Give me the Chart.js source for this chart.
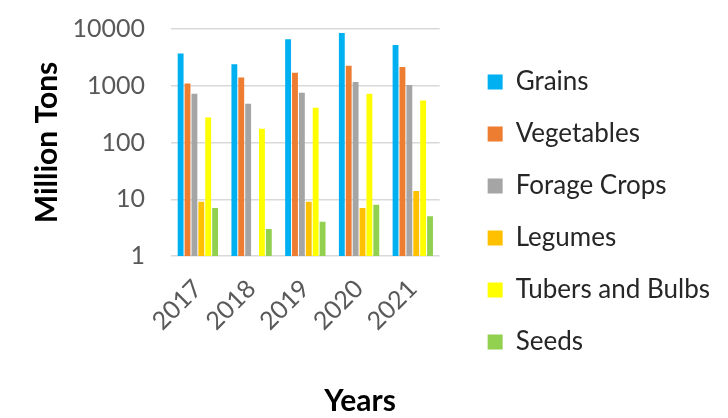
<!DOCTYPE html>
<html><head><meta charset="utf-8">
<script src="https://cdn.jsdelivr.net/npm/chart.js@4.4.1/dist/chart.umd.min.js"></script>
<style>html,body{margin:0;padding:0;background:#fff}#wrap{width:728px;height:418px}</style>
</head><body><div id="wrap"><canvas id="c"></canvas></div>
<script>
const categories = ['2017','2018','2019','2020','2021'];
const grains = [3700, 2400, 6600, 8500, 5200];
const vegetables = [1100, 1400, 1700, 2250, 2150];
const forageCrops = [720, 480, 750, 1170, 1030];
const legumes = [9, null, 9, 7, 14];
const tubersBulbs = [275, 175, 410, 720, 550];
const seeds = [7, 3, 4, 8, 5];
const yTicks = [1, 10, 100, 1000, 10000];

const FONT = 'Lato';
Chart.defaults.font.family = FONT;
new Chart(document.getElementById('c'), {
  type: 'bar',
  data: {
    labels: categories,
    datasets: [
      {label: 'Grains', data: grains, backgroundColor: '#00b0f0'},
      {label: 'Vegetables', data: vegetables, backgroundColor: '#ed7d31'},
      {label: 'Forage Crops', data: forageCrops, backgroundColor: '#a5a5a5'},
      {label: 'Legumes', data: legumes, backgroundColor: '#ffc000'},
      {label: 'Tubers and Bulbs', data: tubersBulbs, backgroundColor: '#ffff00'},
      {label: 'Seeds', data: seeds, backgroundColor: '#92d050'}
    ]
  },
  options: {
    responsive: true,
    maintainAspectRatio: false,
    animation: false,
    layout: {padding: {left: 0, right: 8, top: 6, bottom: 0}},
    datasets: {bar: {categoryPercentage: 0.77, barPercentage: 0.85}},
    plugins: {
      legend: {
        position: 'right',
        maxWidth: 400,
        labels: {boxWidth: 15, boxHeight: 15, padding: 26, color: '#262626', font: {size: 26, family: FONT}}
      },
      title: {
        display: true, position: 'bottom', text: 'Years', color: '#000',
        font: {size: 30, weight: 'bold', family: FONT, lineHeight: '1px'}, padding: {top: 0, bottom: 16}
      },
      tooltip: {enabled: false}
    },
    scales: {
      x: {
        grid: {display: false},
        border: {display: false},
        ticks: {color: '#595959', font: {size: 25, family: FONT}, minRotation: 45, maxRotation: 45, padding: 10},
        afterFit: s => { s.height = 145; }
      },
      y: {
        type: 'logarithmic',
        min: 1, max: 10000,
        afterBuildTicks: s => { s.ticks = yTicks.map(v => ({value: v})); },
        afterFit: s => { s.width = 171; s.paddingTop = 29; },
        grid: {color: '#d9d9d9', lineWidth: 1.5, drawTicks: false},
        border: {display: false},
        ticks: {color: '#595959', font: {size: 25, family: FONT}, padding: 26, callback: v => String(v)},
        title: {display: true, text: 'Million Tons', color: '#000', font: {size: 30, weight: 'bold', family: FONT}, padding: {top: 29, bottom: 12}}
      },
      gap: {
        type: 'linear', position: 'right', display: true,
        grid: {display: false}, border: {display: false}, ticks: {display: false},
        afterFit: s => { s.width = 22; }
      }
    }
  }
});
</script></body></html>
